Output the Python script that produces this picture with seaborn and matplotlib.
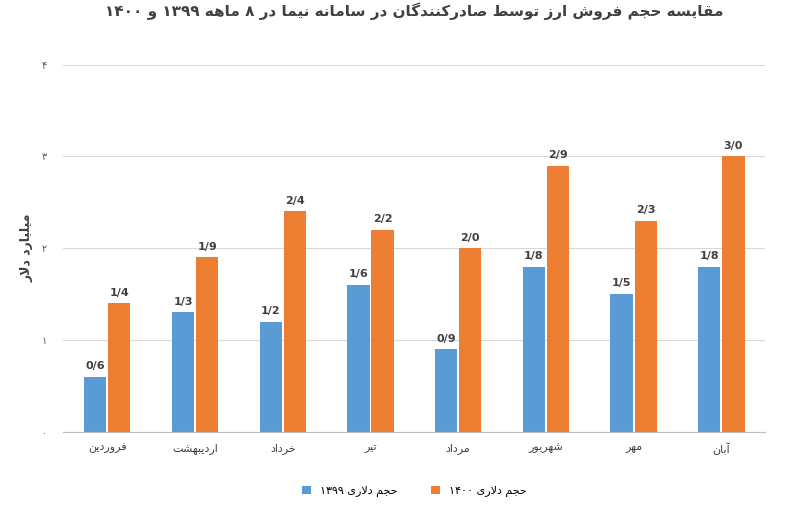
import pandas as pd
import matplotlib
matplotlib.use('Agg')
import matplotlib.pyplot as plt
import seaborn as sns

# داده‌ها
months = ['فروردین', 'اردیبهشت', 'خرداد', 'تیر', 'مرداد', 'شهریور', 'مهر', 'آبان']
vol_1399 = [0.6, 1.3, 1.2, 1.6, 0.9, 1.8, 1.5, 1.8]
vol_1400 = [1.4, 1.9, 2.4, 2.2, 2.0, 2.9, 2.3, 3.0]
y_ticks = [0, 1, 2, 3, 4]
title = 'مقایسه حجم فروش ارز توسط صادرکنندگان در سامانه نیما در ۸ ماهه ۱۳۹۹ و ۱۴۰۰'
y_label = 'میلیارد دلار'
series_names = ['حجم دلاری ۱۳۹۹', 'حجم دلاری ۱۴۰۰']

# حروف: (isolated, final, initial, medial) ; دو شکلی = فقط از راست وصل
FORMS = {
    'ا': (0xFE8D, 0xFE8E), 'آ': (0xFE81, 0xFE82), 'د': (0xFEA9, 0xFEAA), 'ذ': (0xFEAB, 0xFEAC),
    'ر': (0xFEAD, 0xFEAE), 'ز': (0xFEAF, 0xFEB0), 'ژ': (0xFB8A, 0xFB8B), 'و': (0xFEED, 0xFEEE),
    'ب': (0xFE8F,), 'ت': (0xFE95,), 'ث': (0xFE99,), 'ج': (0xFE9D,), 'ح': (0xFEA1,), 'خ': (0xFEA5,),
    'س': (0xFEB1,), 'ش': (0xFEB5,), 'ص': (0xFEB9,), 'ض': (0xFEBD,), 'ط': (0xFEC1,), 'ظ': (0xFEC5,),
    'ع': (0xFEC9,), 'غ': (0xFECD,), 'ف': (0xFED1,), 'ق': (0xFED5,), 'ل': (0xFEDD,), 'م': (0xFEE1,),
    'ن': (0xFEE5,), 'ه': (0xFEE9,), 'پ': (0xFB56,), 'چ': (0xFB7A,), 'ک': (0xFB8E,), 'گ': (0xFB92,),
    'ی': (0xFBFC,),
}


def shape_fa(text):
    """شکل‌دهی ساده حروف فارسی و راست به چپ کردن"""
    chars = list(text)
    out = []
    i = 0
    while i < len(chars):
        c = chars[i]
        if c not in FORMS:
            out.append(c)
            i += 1
            continue
        prev = chars[i - 1] if i > 0 else ''
        joins_prev = prev in FORMS and len(FORMS[prev]) == 1
        # لام الف
        if c == 'ل' and i + 1 < len(chars) and chars[i + 1] == 'ا':
            out.append(chr(0xFEFC if joins_prev else 0xFEFB))
            i += 2
            continue
        nxt = chars[i + 1] if i + 1 < len(chars) else ''
        f = FORMS[c]
        if len(f) == 2:
            out.append(chr(f[1] if joins_prev else f[0]))
        else:
            base = f[0]
            joins_next = nxt in FORMS
            if joins_prev and joins_next:
                out.append(chr(base + 3))
            elif joins_prev:
                out.append(chr(base + 1))
            elif joins_next:
                out.append(chr(base + 2))
            else:
                out.append(chr(base))
        i += 1
    s = ''.join(out)[::-1]
    # اعداد چپ به راست بمانند
    res, run = '', ''
    for ch in s:
        if ch.isdigit():
            run += ch
        else:
            res += run[::-1] + ch
            run = ''
    return res + run[::-1]


fa_digits = str.maketrans('0123456789', '۰۱۲۳۴۵۶۷۸۹')

df = pd.DataFrame({
    'month': [shape_fa(m) for m in months] * 2,
    'value': vol_1399 + vol_1400,
    'series': [shape_fa(series_names[0])] * 8 + [shape_fa(series_names[1])] * 8,
})

plt.rcParams['font.family'] = 'DejaVu Sans'
fig, ax = plt.subplots(figsize=(7.93, 5.17), dpi=100)
sns.barplot(data=df, x='month', y='value', hue='series', saturation=1,
            palette=['#5B9BD5', '#ED7D31'], width=0.55, gap=0.08, ax=ax)

for cont in ax.containers:
    ax.bar_label(cont, labels=[f'{v:.1f}'.replace('.', '/') for v in cont.datavalues],
                 padding=4, fontsize=8, fontweight='bold', color='#404040')

ax.set_ylim(0, 4)
ax.set_yticks(y_ticks)
ax.set_yticklabels([str(t).translate(fa_digits) for t in y_ticks], fontsize=7, color='#595959')
ax.tick_params(axis='both', length=0)
ax.tick_params(axis='y', pad=12)
ax.tick_params(axis='x', labelsize=8, colors='#404040', pad=8)
ax.yaxis.grid(True, color='#D9D9D9', linewidth=0.8)
ax.set_axisbelow(True)
for s in ['top', 'right', 'left']:
    ax.spines[s].set_visible(False)
ax.spines['bottom'].set_color('#BFBFBF')
ax.set_xlabel('')
ax.set_ylabel(shape_fa(y_label), fontsize=9, fontweight='bold', color='#404040', labelpad=6)
ax.set_title(shape_fa(title), fontsize=11, fontweight='bold', color='#404040', pad=35)

handles, labels = ax.get_legend_handles_labels()
ax.legend(handles, labels, loc='upper center', bbox_to_anchor=(0.5, -0.12),
          ncol=2, frameon=False, fontsize=8, handlelength=0.8, handleheight=0.8,
          columnspacing=3)

fig.subplots_adjust(left=0.08, right=0.965, top=0.875, bottom=0.165)
fig.savefig('out.png', dpi=100)
